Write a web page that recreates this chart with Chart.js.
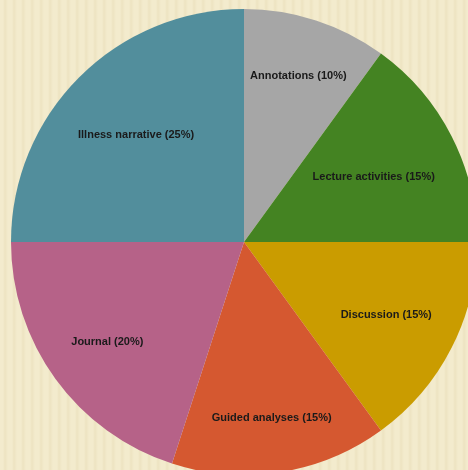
<!DOCTYPE html>
<html>
<head>
<meta charset="utf-8">
<script src="https://cdn.jsdelivr.net/npm/chart.js@4/dist/chart.umd.min.js"></script>
<style>
  html, body { margin: 0; padding: 0; overflow: hidden; }
  body {
    width: 468px; height: 470px;
    background-color: #F2EACB;
    background-image: repeating-linear-gradient(90deg, #F3EBCD 0px, #F3EBCD 3px, #EDE3C1 5px, #F3EBCD 8px, #F3EBCD 9px);
  }
  #wrap { position: absolute; left: 0; top: 0; width: 468px; height: 470px; }
</style>
</head>
<body>
<div id="wrap"><canvas id="c" width="468" height="470"></canvas></div>
<script>
const categories = ["Annotations", "Lecture activities", "Discussion", "Guided analyses", "Journal", "Illness narrative"];
const shares = [10, 15, 15, 15, 20, 25];
const sliceColors = ["#A6A6A6", "#448322", "#CA9C00", "#D55830", "#B66288", "#528E9C"];

const labelFractions = [0.755, 0.625, 0.685, 0.76, 0.725, 0.655];

const sliceLabels = {
  id: 'sliceLabels',
  afterDatasetsDraw(chart) {
    const ctx = chart.ctx;
    const meta = chart.getDatasetMeta(0);
    ctx.save();
    ctx.font = 'bold 11px "Liberation Sans", Arial, sans-serif';
    ctx.fillStyle = '#1a1a1a';
    ctx.textAlign = 'center';
    ctx.textBaseline = 'middle';
    meta.data.forEach((arc, i) => {
      const p = arc.getProps(['x', 'y', 'startAngle', 'endAngle', 'outerRadius'], true);
      const mid = (p.startAngle + p.endAngle) / 2;
      const r = p.outerRadius * labelFractions[i];
      const tx = p.x + Math.cos(mid) * r;
      const ty = p.y + Math.sin(mid) * r + 1;
      ctx.fillText(categories[i] + ' (' + shares[i] + '%)', tx, ty);
    });
    ctx.restore();
  }
};

new Chart(document.getElementById('c'), {
  type: 'pie',
  data: {
    labels: categories,
    datasets: [{
      data: shares,
      backgroundColor: sliceColors,
      borderWidth: 0,
      clip: false
    }]
  },
  options: {
    responsive: false,
    animation: false,
    radius: 233,
    layout: { padding: { left: 20, right: 0, top: 14, bottom: 0 } },
    plugins: {
      legend: { display: false },
      tooltip: { enabled: false }
    }
  },
  plugins: [sliceLabels]
});
</script>
</body>
</html>
